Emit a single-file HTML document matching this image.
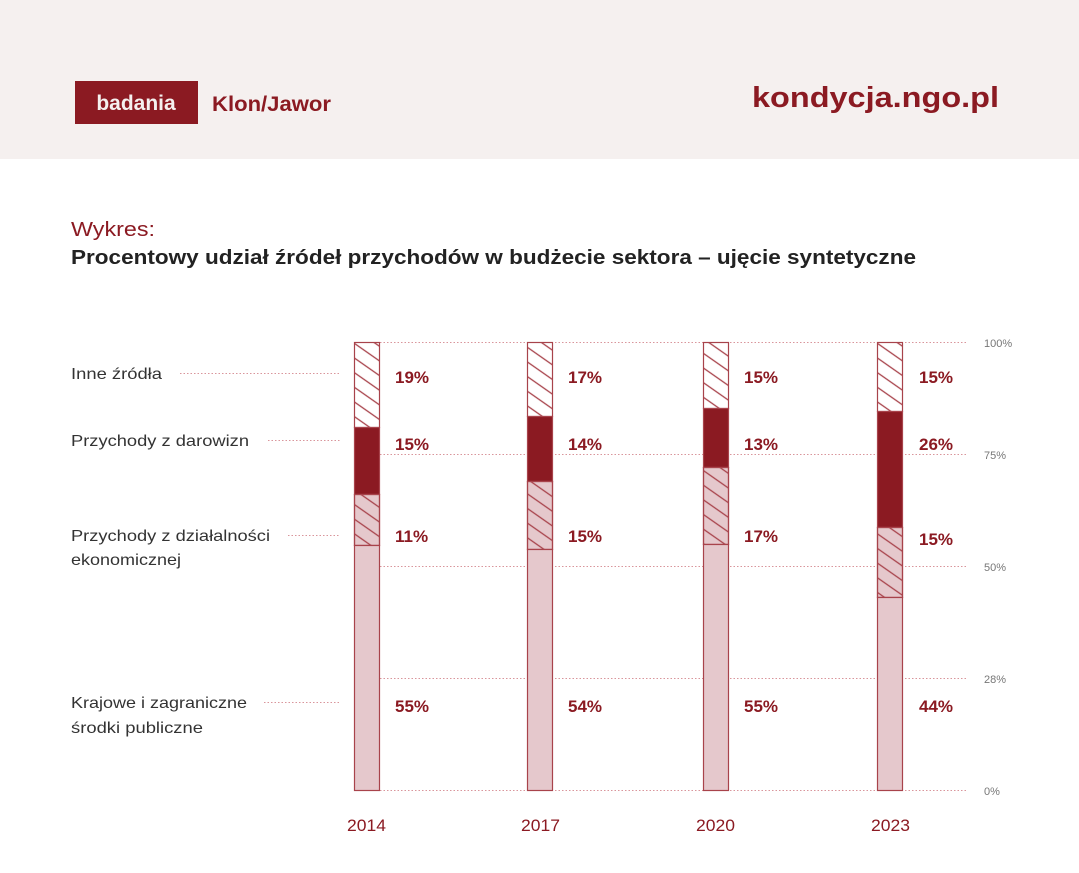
<!DOCTYPE html>
<html><head><meta charset="utf-8"><style>
html,body{margin:0;padding:0;background:#fff;}
body{width:1079px;height:868px;overflow:hidden;font-family:"Liberation Sans",sans-serif;}
</style></head><body>
<svg width="1079" height="868" xmlns="http://www.w3.org/2000/svg" font-family="Liberation Sans, sans-serif">
<defs>
<pattern id="h" width="12" height="12" patternUnits="userSpaceOnUse" patternTransform="rotate(35)">
<line x1="0" y1="6" x2="12" y2="6" stroke="#a8434b" stroke-width="1.3"/>
</pattern>
</defs>
<rect x="0" y="0" width="1079" height="159" fill="#f5f0ef"/>
<rect x="75" y="81" width="123" height="43" fill="#8b1a22"/>
<text x="136" y="110" text-anchor="middle" font-size="21" font-weight="bold" fill="#f5f0ef">badania</text>
<text x="212" y="111" font-size="21" font-weight="bold" fill="#8b1a22" textLength="119" lengthAdjust="spacingAndGlyphs">Klon/Jawor</text>
<text x="752" y="107" font-size="29" font-weight="bold" fill="#8b1a22" textLength="247" lengthAdjust="spacingAndGlyphs">kondycja.ngo.pl</text>
<text x="71" y="236" font-size="20" fill="#8b1a22" textLength="84" lengthAdjust="spacingAndGlyphs">Wykres:</text>
<text x="71" y="264" font-size="20" font-weight="bold" fill="#222" textLength="845" lengthAdjust="spacingAndGlyphs">Procentowy udział źródeł przychodów w budżecie sektora – ujęcie syntetyczne</text>
<g stroke="#d9959b" stroke-width="1" stroke-dasharray="1.5 2">
<line x1="380" y1="342.5" x2="968" y2="342.5"/>
<line x1="380" y1="454.5" x2="968" y2="454.5"/>
<line x1="380" y1="566.5" x2="968" y2="566.5"/>
<line x1="380" y1="678.5" x2="968" y2="678.5"/>
<line x1="380" y1="790.5" x2="968" y2="790.5"/>
<line x1="180" y1="373.5" x2="340" y2="373.5"/>
<line x1="268" y1="440.5" x2="340" y2="440.5"/>
<line x1="288" y1="535.5" x2="340" y2="535.5"/>
<line x1="264" y1="702.5" x2="340" y2="702.5"/>
</g>
<g font-size="11" fill="#777">
<text x="984" y="347">100%</text><text x="984" y="459">75%</text><text x="984" y="571">50%</text><text x="984" y="683">28%</text><text x="984" y="795">0%</text>
</g>
<g font-size="16" fill="#333" lengthAdjust="spacingAndGlyphs">
<text x="71" y="379" textLength="91" lengthAdjust="spacingAndGlyphs">Inne źródła</text>
<text x="71" y="446" textLength="178" lengthAdjust="spacingAndGlyphs">Przychody z darowizn</text>
<text x="71" y="541" textLength="199" lengthAdjust="spacingAndGlyphs">Przychody z działalności</text>
<text x="71" y="565" textLength="110" lengthAdjust="spacingAndGlyphs">ekonomicznej</text>
<text x="71" y="708" textLength="176" lengthAdjust="spacingAndGlyphs">Krajowe i zagraniczne</text>
<text x="71" y="733" textLength="132" lengthAdjust="spacingAndGlyphs">środki publiczne</text>
</g>
<g stroke="#a8434b" stroke-width="1.2">
<rect x="354.5" y="342.5" width="25" height="85" fill="url(#h)"/>
<rect x="354.5" y="427.5" width="25" height="67" fill="#8b1a22"/>
<rect x="354.5" y="494.5" width="25" height="51" fill="#e5c8cc"/>
<rect x="354.5" y="494.5" width="25" height="51" fill="url(#h)"/>
<rect x="354.5" y="545.5" width="25" height="245" fill="#e5c8cc"/>
<rect x="527.5" y="342.5" width="25" height="74" fill="url(#h)"/>
<rect x="527.5" y="416.5" width="25" height="65" fill="#8b1a22"/>
<rect x="527.5" y="481.5" width="25" height="68" fill="#e5c8cc"/>
<rect x="527.5" y="481.5" width="25" height="68" fill="url(#h)"/>
<rect x="527.5" y="549.5" width="25" height="241" fill="#e5c8cc"/>
<rect x="703.5" y="342.5" width="25" height="66" fill="url(#h)"/>
<rect x="703.5" y="408.5" width="25" height="59" fill="#8b1a22"/>
<rect x="703.5" y="467.5" width="25" height="77" fill="#e5c8cc"/>
<rect x="703.5" y="467.5" width="25" height="77" fill="url(#h)"/>
<rect x="703.5" y="544.5" width="25" height="246" fill="#e5c8cc"/>
<rect x="877.5" y="342.5" width="25" height="69" fill="url(#h)"/>
<rect x="877.5" y="411.5" width="25" height="116" fill="#8b1a22"/>
<rect x="877.5" y="527.5" width="25" height="70" fill="#e5c8cc"/>
<rect x="877.5" y="527.5" width="25" height="70" fill="url(#h)"/>
<rect x="877.5" y="597.5" width="25" height="193" fill="#e5c8cc"/>
</g>
<g font-size="17" font-weight="bold" fill="#8b1a22">
<text x="395" y="383">19%</text><text x="395" y="450">15%</text><text x="395" y="542">11%</text><text x="395" y="712">55%</text>
<text x="568" y="383">17%</text><text x="568" y="450">14%</text><text x="568" y="542">15%</text><text x="568" y="712">54%</text>
<text x="744" y="383">15%</text><text x="744" y="450">13%</text><text x="744" y="542">17%</text><text x="744" y="712">55%</text>
<text x="919" y="383">15%</text><text x="919" y="450">26%</text><text x="919" y="545">15%</text><text x="919" y="712">44%</text>
</g>
<g font-size="17" fill="#8b1a22">
<text x="347" y="831" textLength="39" lengthAdjust="spacingAndGlyphs">2014</text><text x="521" y="831" textLength="39" lengthAdjust="spacingAndGlyphs">2017</text><text x="696" y="831" textLength="39" lengthAdjust="spacingAndGlyphs">2020</text><text x="871" y="831" textLength="39" lengthAdjust="spacingAndGlyphs">2023</text>
</g>
</svg>
</body></html>
